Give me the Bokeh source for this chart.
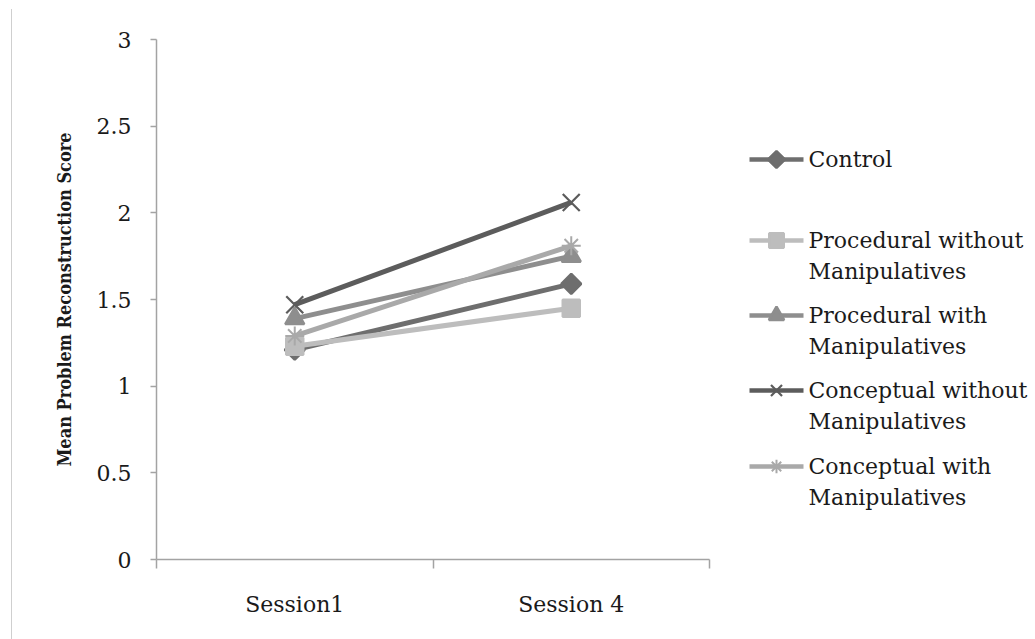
from bokeh.plotting import figure
from bokeh.layouts import row
from bokeh.models import Range1d, FixedTicker, Div
from bokeh.core.properties import value
from bokeh.embed import file_html
from bokeh.resources import INLINE

# ---- data -------------------------------------------------------------
sessions = ["Session1", "Session 4"]
series_names = [
    "Control",
    "Procedural without\nManipulatives",
    "Procedural with\nManipulatives",
    "Conceptual without\nManipulatives",
    "Conceptual with\nManipulatives",
]
control = [1.21, 1.59]
procedural_without = [1.23, 1.45]
procedural_with = [1.39, 1.75]
conceptual_without = [1.47, 2.06]
conceptual_with = [1.29, 1.81]
y_ticks = [0, 0.5, 1, 1.5, 2, 2.5, 3]

series_values = [control, procedural_without, procedural_with,
                 conceptual_without, conceptual_with]

# ---- styling ----------------------------------------------------------
FONT = "DejaVu Serif"
TITLE_FONT = "DejaVu Serif Condensed"
TEXT_COLOR = "#1a1a1a"
colors = ["#6e6e6e", "#bdbdbd", "#8e8e8e", "#5c5c5c", "#a9a9a9"]
markers = ["square", "square", "triangle", "x", "asterisk"]
marker_sizes = [14, 17, 19, 24, 19]
marker_lw = [2.5, 2.5, 2.5, 2.2, 2.0]
marker_angles = [0.785398, 0, 0, 0, 0]
legend_scale = [0.85, 0.85, 0.8, 0.65, 0.7]
AXIS_COLOR = "#a3a3a3"

TOP, BOTTOM = 39, 80           # borders around the plotting frame
H = 639
EDGE = 12                      # width taken by the left edge rule

x_pos = [i + 0.5 for i in range(len(sessions))]

p = figure(width=1035 - EDGE - 295, height=H, output_backend="svg", toolbar_location=None,
           x_range=Range1d(0, len(sessions)), y_range=Range1d(y_ticks[0], y_ticks[-1]),
           min_border_left=156 - EDGE, min_border_right=31, min_border_top=TOP,
           min_border_bottom=BOTTOM)
p.outline_line_color = None
p.grid.grid_line_color = None
p.background_fill_color = "white"
p.border_fill_color = "white"

for vals, col, mk, ms, lw, ang in zip(series_values, colors, markers, marker_sizes,
                                      marker_lw, marker_angles):
    p.line(x_pos, vals, line_color=col, line_width=5)
    p.scatter(x_pos, vals, marker=mk, size=ms, angle=ang,
              fill_color=col, line_color=col, line_width=lw)

# x axis: labels centred on categories, tick marks on category boundaries
xa = p.xaxis[0]
xa.ticker = FixedTicker(ticks=x_pos, minor_ticks=list(range(len(sessions) + 1)))
xa.major_label_overrides = {x: s for x, s in zip(x_pos, sessions)}
xa.major_tick_line_color = None
xa.major_tick_in = 0
xa.major_tick_out = 0
xa.minor_tick_in = 0
xa.minor_tick_out = 9
xa.minor_tick_line_color = AXIS_COLOR
xa.minor_tick_line_width = 1.5
xa.axis_line_color = AXIS_COLOR
xa.axis_line_width = 1.5
xa.major_label_text_font = FONT
xa.major_label_text_font_size = "22px"
xa.major_label_text_color = TEXT_COLOR
xa.major_label_standoff = 23

ya = p.yaxis[0]
ya.ticker = FixedTicker(ticks=y_ticks)
ya.major_label_overrides = {t: ("%g" % t) for t in y_ticks}
ya.minor_tick_line_color = None
ya.major_tick_in = 0
ya.major_tick_out = 6
ya.major_tick_line_color = AXIS_COLOR
ya.major_tick_line_width = 1.5
ya.axis_line_color = AXIS_COLOR
ya.axis_line_width = 1.5
ya.major_label_text_font = FONT
ya.major_label_text_font_size = "22px"
ya.major_label_text_color = TEXT_COLOR
ya.major_label_standoff = 19
ya.axis_label = "Mean Problem Reconstruction Score"
ya.axis_label_text_font = TITLE_FONT
ya.axis_label_text_font_style = "bold"
ya.axis_label_text_font_size = "18px"
ya.axis_label_text_color = TEXT_COLOR
ya.axis_label_standoff = 19

# thin border line at the left edge of the chart area
edge = Div(text="", width=EDGE - 1, height=H - 9, margin=(9, 0, 0, 0),
           styles={"border-right": "1px solid #cfcfcf", "box-sizing": "content-box"})

# ---- legend panel (pixel coordinates inside the frame band) ------------
lg = figure(width=295, height=H, output_backend="svg", toolbar_location=None,
            x_range=Range1d(0, 295), y_range=Range1d(H - BOTTOM, TOP),
            min_border_left=0, min_border_right=0,
            min_border_top=TOP, min_border_bottom=BOTTOM)
lg.axis.visible = False
lg.grid.grid_line_color = None
lg.outline_line_color = None

entry_y = [159, 240, 315, 390, 466]
line_gap = 31
for name, col, mk, ms, lw, ang, sc, yy in zip(series_names, colors, markers, marker_sizes,
                                              marker_lw, marker_angles, legend_scale, entry_y):
    lg.line([9, 63], [yy, yy], line_color=col, line_width=4.5)
    lg.scatter([36], [yy], marker=mk, size=ms * sc, angle=ang,
               fill_color=col, line_color=col, line_width=lw)
    for k, part in enumerate(name.split("\n")):
        lg.text([68], [yy + k * line_gap], text=[part],
                text_font=value(FONT), text_font_size="22px",
                text_color=TEXT_COLOR, text_baseline="middle", text_align="left")

layout = row(edge, p, lg)
open("out.html", "w").write(file_html(layout, INLINE))
